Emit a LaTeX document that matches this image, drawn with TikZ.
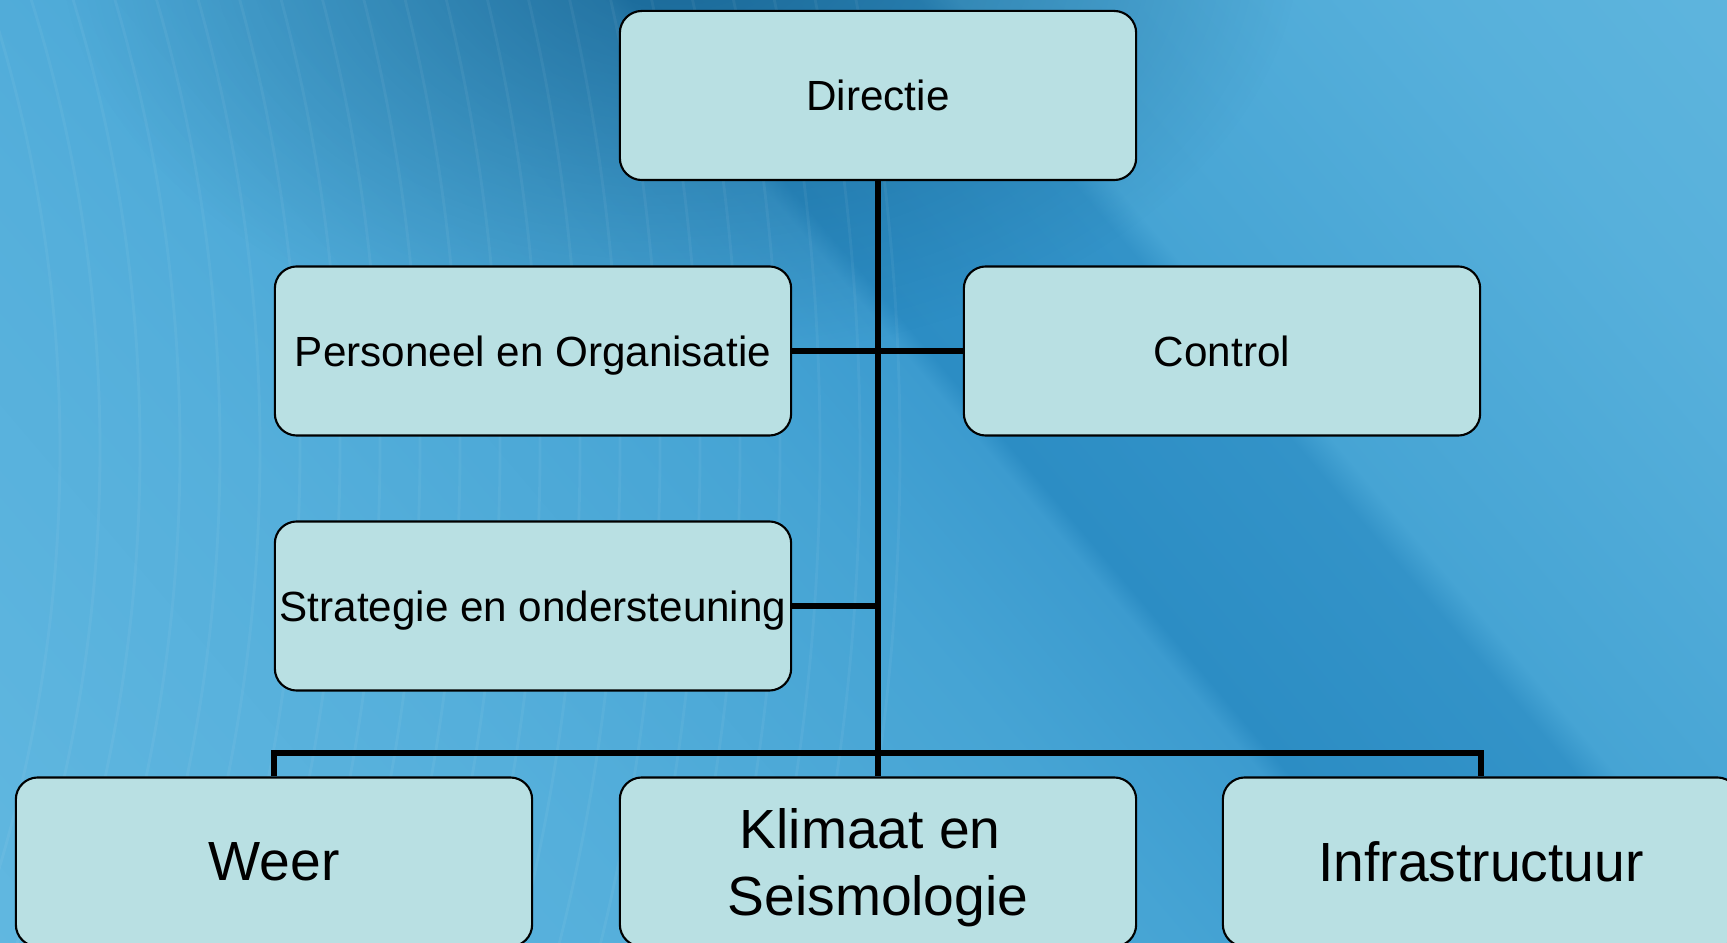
\documentclass[tikz,border=0pt]{standalone}
\usepackage{fontspec}
\setmainfont{Liberation Sans}
\usetikzlibrary{fadings}
\definecolor{boxfill}{HTML}{B9E0E3}
\definecolor{bgedge}{HTML}{63B9E1}
\definecolor{bglight}{HTML}{55AFDB}
\definecolor{bgmid}{HTML}{46A4D4}
\definecolor{bgrim}{HTML}{3C9BCF}
\definecolor{bgband}{HTML}{2C8DC4}
\definecolor{bgbandr}{HTML}{3393C8}
\definecolor{bgright}{HTML}{57B0DB}
\definecolor{bgfar}{HTML}{6FC0E3}
\definecolor{bgdeep}{HTML}{0E4F78}
\pgfdeclarehorizontalshading{bandshade}{100bp}{color(0bp)=(bgedge); color(25bp)=(bgedge); color(36.5bp)=(bglight); color(44.2bp)=(bgmid); color(47.5bp)=(bgrim); color(47.9bp)=(bgband); color(52.1bp)=(bgbandr); color(52.7bp)=(bgmid); color(59.6bp)=(bgright); color(75bp)=(bgfar); color(100bp)=(bgfar)}
\tikzfading[name=topglow, inner color=transparent!40, outer color=transparent!100]
\tikzset{
  unit/.style={draw=black, line width=0.6pt, fill=boxfill, rounded corners=0.22cm, minimum width=5.16cm, minimum height=1.69cm, inner sep=0pt, text depth=0pt, align=center, font=\fontsize{12}{14}\selectfont},
  dept/.style={unit, font=\fontsize{15.7}{18.8}\selectfont},
  link/.style={black, line width=1.6pt}
}
\begin{document}
\begin{tikzpicture}[x=0.01cm,y=-0.01cm]
        % Background
        \useasboundingbox (0,0) rectangle (1727,943);
        \clip (0,0) rectangle (1727,943);
        \fill[bglight] (0,0) rectangle (1727,943);
        \begin{scope}[transform canvas={shift={(1175,471.5)},rotate=40.4}]
            \shade[shading=bandshade] (-1300,-1300) rectangle (1300,1300);
        \end{scope}
        \fill[bgdeep,path fading=topglow] (680,-60) ellipse (620 and 420);
        \foreach \r in {1460,1500,...,2300}
            \draw[white,opacity=0.05,line width=0.8pt] (-1400,450) circle (\r);
        % Units
        \node[unit] (dir) at (878,95.5) {Directie};
        \node[unit] (po) at (533,351) {Personeel en Organisatie};
        \node[unit] (ctrl) at (1222,351) {Control};
        \node[unit] (strat) at (533,606) {Strategie en ondersteuning};
        % Departments
        \node[dept] (weer) at (274,862) {Weer};
        \node[dept] (klim) at (878,862) {Klimaat en\hspace*{0.278em}\\Seismologie};
        \node[dept] (infra) at (1481,862) {Infrastructuur};
        % Connectors
        \coordinate (bus) at (878,753);
        \draw[link] (dir.south) -- (klim.north);
        \draw[link] (po.east) -- (ctrl.west);
        \draw[link] (strat.east) -- (strat.east -| dir.south);
        \draw[link] (weer.north) |- (bus) -| (infra.north);
\end{tikzpicture}
\end{document}
